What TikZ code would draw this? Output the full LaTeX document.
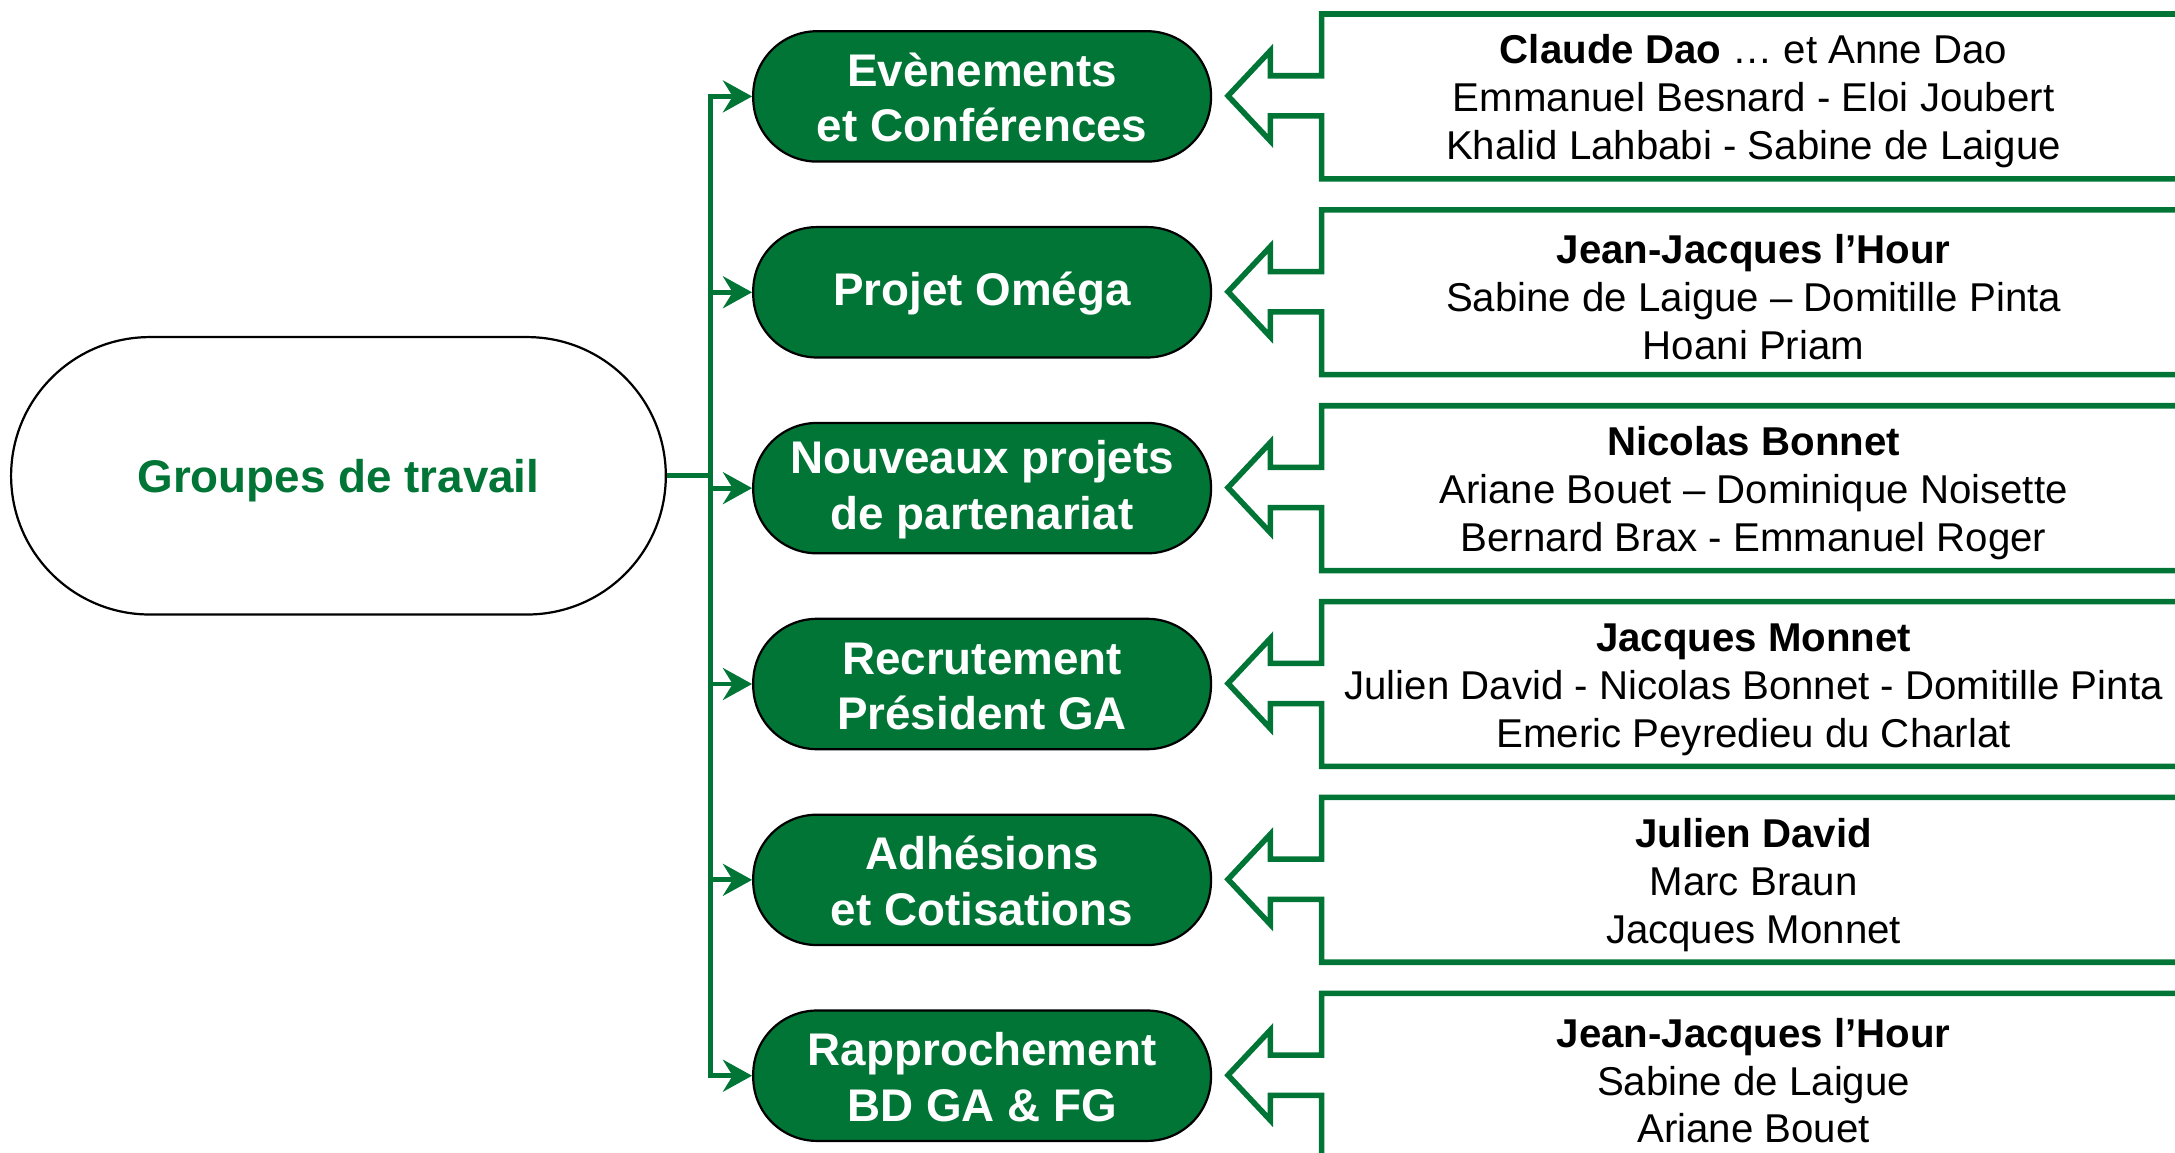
\documentclass[tikz,border=0pt]{standalone}
\usepackage{fontspec}
\setmainfont{Liberation Sans}
\usetikzlibrary{arrows.meta,positioning}
\definecolor{grpgreen}{RGB}{0,117,54}

\begin{document}
\begin{tikzpicture}[x=0.5pt, y=-0.5pt,
    root/.style={draw=black, line width=0.8pt, fill=white, rounded corners=50pt,
        minimum width=236pt, minimum height=100pt, text=grpgreen,
        text height=15.9pt, text depth=3.5pt,
        font=\bfseries\fontsize{16.5}{20}\selectfont},
    group/.style={draw=black, line width=0.8pt, fill=grpgreen, rounded corners=23pt,
        minimum width=165pt, minimum height=47pt, text=white, align=center,
        font=\bfseries\fontsize{16.5}{20}\selectfont},
    members/.style={minimum width=311pt, minimum height=59pt, align=center,
        inner sep=0pt, font=\fontsize{14.5}{17.25}\selectfont},
    link/.style={draw=grpgreen, line width=1.8pt},
    callout/.style={draw=grpgreen, line width=2pt, line join=miter}]
    \useasboundingbox (0,0) rectangle (1568,831);
    \clip (0,0) rectangle (1568,831);

    \node[root] (root) at (244,343) {Groupes de travail};
    \coordinate (hub) at (512,343);
    \draw[link] (root.east) -- (hub);

    \foreach[count=\i] \lgroup/\lmembers in {
        {Evènements\\et Conférences}/{\textbf{Claude Dao} … et Anne Dao\\Emmanuel Besnard - Eloi Joubert\\Khalid Lahbabi - Sabine de Laigue},
        {Projet Oméga}/{\textbf{Jean-Jacques l’Hour}\\Sabine de Laigue – Domitille Pinta\\Hoani Priam},
        {Nouveaux projets\\de partenariat}/{\textbf{Nicolas Bonnet}\\Ariane Bouet – Dominique Noisette\\Bernard Brax - Emmanuel Roger},
        {Recrutement\\Président GA}/{\textbf{Jacques Monnet}\\Julien David - Nicolas Bonnet - Domitille Pinta\\Emeric Peyredieu du Charlat},
        {Adhésions\\et Cotisations}/{\textbf{Julien David}\\Marc Braun\\Jacques Monnet},
        {Rapprochement\\BD GA \& FG}/{\textbf{Jean-Jacques l’Hour}\\Sabine de Laigue\\Ariane Bouet}} {
        \node[group] (g-\i) at (708,{69.5+141.2*(\i-1)}) {\rule{0pt}{13pt}\lgroup};
        \node[members, right=39.5pt of g-\i] (m-\i) {\rule{0pt}{14.1pt}\lmembers};
        \draw[link, -{Stealth[length=10.5pt,width=11.5pt,inset=3.5pt]}]
            (hub) |- (g-\i.west);
        \draw[callout] (m-\i.north west) -- ++(0,44.5) -- ++(-37,0) -- ++(0,-18)
            -- ++(-30.5,32.5) -- ++(30.5,32.5) -- ++(0,-18) -- ++(37,0)
            -- (m-\i.south west) -- (m-\i.south east) -- (m-\i.north east) -- cycle;
    }
\end{tikzpicture}
\end{document}
